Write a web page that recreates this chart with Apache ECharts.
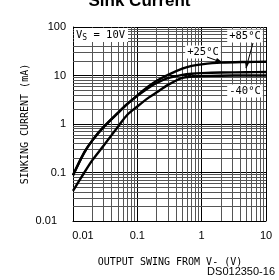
<!DOCTYPE html>
<html>
<head>
<meta charset="utf-8">
<script src="https://cdn.jsdelivr.net/npm/echarts@6/dist/echarts.min.js"></script>
<style>
  html, body { margin: 0; padding: 0; background: #fff; }
  #chart { width: 279px; height: 280px; }
</style>
</head>
<body>
<div id="chart"></div>
<script>
// output swing from V- (V)
const swing = [0.01, 0.015, 0.02, 0.03, 0.05, 0.07, 0.1, 0.15, 0.2, 0.3, 0.5, 0.7, 1, 2, 5, 10];
// sinking current (mA)
const sink25 = [0.088, 0.26, 0.46, 0.87, 1.7, 2.6, 3.9, 6.0, 7.8, 10.3, 13.8, 15.8, 17, 18.4, 19, 19.2];
const sink85 = [0.088, 0.26, 0.46, 0.87, 1.7, 2.6, 3.8, 5.6, 7.0, 8.8, 10.3, 10.9, 11.2, 11.5, 11.7, 11.8];
const sinkM40 = [0.042, 0.1, 0.18, 0.36, 0.88, 1.55, 2.3, 3.5, 4.5, 6.4, 8.9, 9.5, 9.7, 9.9, 10, 10];
const xTicks = ['0.01', '0.1', '1', '10'];
const yTicks = ['0.01', '0.1', '1', '10', '100'];

const mono = '"DejaVu Sans Mono", monospace';
const sans = '"Liberation Sans", Arial, sans-serif';

// minor grid positions 2..9 per decade
function minors(from, decades) {
  let out = [];
  for (let d = 0; d < decades; d++) {
    let base = from * Math.pow(10, d);
    for (let k = 2; k <= 9; k++) out.push(+(base * k).toPrecision(3));
  }
  return out;
}
const gridX = minors(0.01, 3);
const gridY = minors(0.01, 4);

function pair(xs, ys) {
  return xs.map((x, i) => [x, ys[i]]);
}

const curveStyle = { color: '#000', width: 2.4 };

let chart = echarts.init(document.getElementById('chart'));
chart.setOption({
  animation: false,
  grid: { left: 73, right: 13, top: 27, bottom: 59 },
  xAxis: {
    type: 'log', logBase: 10, min: 0.01, max: 10,
    axisLine: { lineStyle: { color: '#000', width: 1 } },
    axisTick: { show: false },
    splitLine: { show: true, lineStyle: { color: '#000', width: 1 } },
    axisLabel: {
      margin: 9, fontFamily: sans, fontSize: 11, color: '#000',
      formatter: function (v) {
        let s = xTicks.find(t => Math.abs(+t - v) < v * 1e-6) || '';
        return s === '0.01' ? '{a|' + s + '}' : s;
      },
      rich: { a: { fontFamily: sans, fontSize: 11, color: '#000', padding: [0, 0, 0, 20] } }
    }
  },
  yAxis: {
    type: 'log', logBase: 10, min: 0.01, max: 100,
    axisLine: { show: true, lineStyle: { color: '#000', width: 1 } },
    axisTick: { show: false },
    splitLine: { show: true, lineStyle: { color: '#000', width: 1 } },
    axisLabel: {
      margin: 7, fontFamily: sans, fontSize: 11, color: '#000',
      formatter: function (v) {
        let s = yTicks.find(t => Math.abs(+t - v) < v * 1e-6) || '';
        return s === '0.01' ? '{a|' + s + '}' : s;
      },
      rich: { a: { fontFamily: sans, fontSize: 11, color: '#000', padding: [0, 9, 0, 0] } }
    }
  },
  series: [
    {
      name: 'grid', type: 'line', data: [], silent: true,
      markLine: {
        silent: true, symbol: 'none', label: { show: false },
        lineStyle: { color: '#555', width: 1, type: 'solid' },
        data: gridX.map(v => ({ xAxis: v })).concat(gridY.map(v => ({ yAxis: v })))
      }
    },
    { name: '+25°C', type: 'line', smooth: 0.3, showSymbol: false, lineStyle: curveStyle, data: pair(swing, sink25), z: 5 },
    { name: '+85°C', type: 'line', smooth: 0.3, showSymbol: false, lineStyle: curveStyle, data: pair(swing, sink85), z: 5 },
    { name: '-40°C', type: 'line', smooth: 0.3, showSymbol: false, lineStyle: curveStyle, data: pair(swing, sinkM40), z: 5 }
  ],
  graphic: [
    { type: 'text', left: 'center', top: -7, style: { text: 'Sink Current', font: 'bold 17px ' + sans, fill: '#000' } },
    { type: 'text', x: 25, y: 124, rotation: Math.PI / 2, style: { text: 'SINKING CURRENT (mA)', font: '10px ' + mono, fill: '#000', align: 'center', verticalAlign: 'middle' } },
    { type: 'text', x: 170, y: 262, style: { text: 'OUTPUT SWING FROM V- (V)', font: '10px ' + mono, fill: '#000', align: 'center', verticalAlign: 'middle' } },
    { type: 'text', x: 275, y: 272, style: { text: 'DS012350-16', font: '11px ' + sans, fill: '#000', align: 'right', verticalAlign: 'middle' } },
    { type: 'rect', shape: { x: 74, y: 28, width: 54, height: 14 }, style: { fill: '#fff' }, z: 10 },
    { type: 'text', x: 76, y: 35, z: 11, style: {
      text: '{a|V}{s|S}{a| = 10V}', verticalAlign: 'middle', fill: '#000',
      rich: { a: { font: '10.5px ' + mono, fill: '#000' }, s: { font: '8px ' + mono, fill: '#000', padding: [6, 0, 0, 0] } }
    } },
    { type: 'text', x: 245, y: 36, z: 11, style: { text: '+85°C', font: '10.5px ' + mono, fill: '#000', align: 'center', verticalAlign: 'middle', backgroundColor: '#fff', padding: [1, 2] } },
    { type: 'text', x: 203, y: 52, z: 11, style: { text: '+25°C', font: '10.5px ' + mono, fill: '#000', align: 'center', verticalAlign: 'middle', backgroundColor: '#fff', padding: [1, 2] } },
    { type: 'text', x: 245, y: 91, z: 11, style: { text: '-40°C', font: '10.5px ' + mono, fill: '#000', align: 'center', verticalAlign: 'middle', backgroundColor: '#fff', padding: [1, 2] } },
    { type: 'line', z: 11, shape: { x1: 207, y1: 57, x2: 221, y2: 62 }, style: { stroke: '#000', lineWidth: 1 } },
    { type: 'polygon', z: 11, shape: { points: [[222, 62], [215, 62], [217, 58]] }, style: { fill: '#000' } },
    { type: 'line', z: 11, shape: { x1: 253, y1: 43, x2: 246, y2: 68 }, style: { stroke: '#000', lineWidth: 1 } },
    { type: 'polygon', z: 11, shape: { points: [[246, 69], [245, 62], [249, 63]] }, style: { fill: '#000' } }
  ]
});
window.addEventListener('resize', () => { chart.resize(); });
</script>
</body>
</html>
